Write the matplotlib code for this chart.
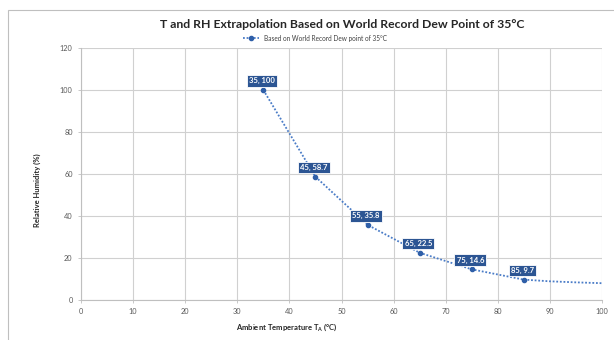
import matplotlib
matplotlib.use("Agg")
import matplotlib.pyplot as plt
from matplotlib.patches import Rectangle

temps = [35, 45, 55, 65, 75, 85]
rh = [100, 58.7, 35.8, 22.5, 14.6, 9.7]
ext_temps = [85, 90, 95, 100]
ext_rh = [9.7, 8.9, 8.4, 8.0]
labels = ["35, 100", "45, 58.7", "55, 35.8", "65, 22.5", "75, 14.6", "85, 9.7"]
x_ticks = list(range(0, 101, 10))
y_ticks = list(range(0, 121, 20))

plt.rcParams['font.family'] = ['Lato', 'DejaVu Sans']

W, H = 614, 340
fig = plt.figure(figsize=(6.14, 3.40), dpi=100)
fig.patches.append(Rectangle((8/W, -0.1), 1.2, 1 - 10/H + 0.1, transform=fig.transFigure,
                             fill=False, edgecolor='#bfbfbf', linewidth=0.8))
ax = fig.add_axes([81/W, 40/H, 521/W, 252/H])

line_color = '#4a7cc7'
ax.plot(ext_temps, ext_rh, linestyle=(0, (1, 1)), color=line_color, linewidth=1.3, zorder=3)
ax.plot(temps, rh, linestyle=(0, (1, 1)), color=line_color, linewidth=1.3,
        marker='o', markersize=3, markerfacecolor='#2f5fa8', markeredgecolor='#2f5fa8',
        label='Based on World Record Dew point of 35°C', zorder=4)

for t, r, lab in zip(temps, rh, labels):
    ax.annotate(lab, (t, r), xytext=(-1, 4), textcoords='offset points', ha='center', va='bottom',
                fontsize=5.5, fontweight='bold', color='white',
                bbox=dict(boxstyle='square,pad=0.3', facecolor='#2c5593', edgecolor='white', linewidth=0.6),
                zorder=5)

ax.set_xlim(0, 100)
ax.set_ylim(0, 120)
ax.set_xticks(x_ticks)
ax.set_yticks(y_ticks)
ax.grid(True, color='#d0d0d0', linewidth=0.8)
ax.set_axisbelow(True)
for s in ['top', 'right']:
    ax.spines[s].set_visible(False)
for s in ['left', 'bottom']:
    ax.spines[s].set_color('#bfbfbf')
    ax.spines[s].set_linewidth(0.8)
ax.tick_params(axis='both', labelsize=5.3, colors='#595959', length=2.5, width=0.6)
ax.tick_params(axis='both', color='#bfbfbf')

fig.text(287/W, 1 - 327/H, 'Ambient Temperature T$_\\mathregular{A}$ (°C)', ha='center', va='center',
         fontsize=5.5, fontweight='bold', color='#262626')
fig.text(37/W, 1 - 190/H, 'Relative Humidity (%)', ha='center', va='center', rotation=90,
         fontsize=5.5, fontweight='bold', color='#262626')

fig.text(342/W, 1 - 25/H, 'T and RH Extrapolation Based on World Record Dew Point of 35°C',
         ha='center', va='center', fontsize=8.8, fontweight='bold', color='#262626')
fig.legend(loc='center', bbox_to_anchor=(315/W, 1 - 38/H), fontsize=4.7, frameon=False,
           handlelength=2.5, labelcolor='#404040')

fig.savefig('out.png', dpi=100)
